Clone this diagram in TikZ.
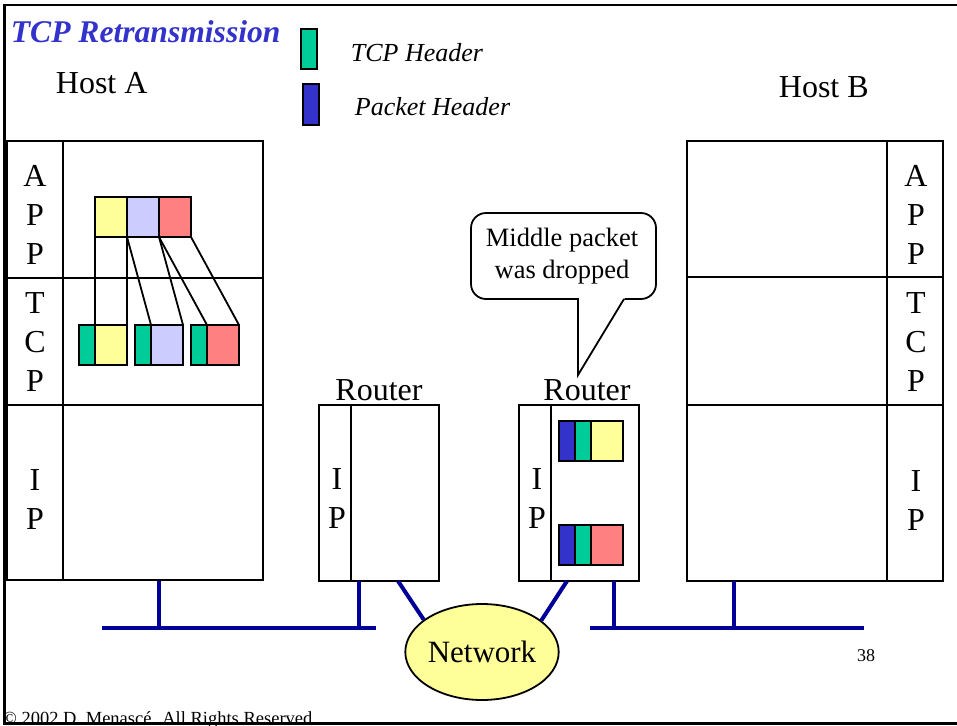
\documentclass[tikz,border=0pt]{standalone}
\usepackage{fontspec}
\setmainfont{Liberation Serif}
\usetikzlibrary{shapes.geometric}
\definecolor{tcpgreen}{HTML}{00CC99}
\definecolor{pktblue}{HTML}{3333CC}
\definecolor{dyellow}{HTML}{FFFF99}
\definecolor{dlav}{HTML}{CCCCFF}
\definecolor{dred}{HTML}{FF8080}
\definecolor{cable}{HTML}{000099}
\definecolor{titleblue}{HTML}{3333CC}
\begin{document}
\begin{tikzpicture}[x=1pt,y=-1pt,line width=1.8pt,
  box/.style={draw=black,line width=1.8pt,rectangle,inner sep=0pt,outer sep=0pt,anchor=north west},
  datapart/.style={box,minimum width=32pt,minimum height=40pt},
  tcphdr/.style={box,minimum width=16pt,minimum height=40pt,fill=tcpgreen},
  pkthdr/.style={box,minimum width=16pt,minimum height=40pt,fill=pktblue},
  cablel/.style={draw=cable,line width=4pt},
  big/.style={font=\fontsize{32}{39}\selectfont,inner sep=0pt},
  stack/.style={big,align=center},
  label/.style={inner sep=0pt,anchor=base west}]
\path[use as bounding box] (0,0) rectangle (957,725);
\clip (0,0) rectangle (957,725);

% title and legend
\node[label,font=\fontsize{31.6}{36}\selectfont\bfseries\itshape,text=titleblue] (title) at (10,42) {TCP Retransmission};
\node[tcphdr] (lgtcp) at (301,29) {};
\node[pkthdr,minimum height=41pt] (lgpkt) at (303,84) {};
\node[label,font=\fontsize{26}{30}\selectfont\itshape] (lgtcptxt) at (350,62) {TCP Header};
\node[label,font=\fontsize{26}{30}\selectfont\itshape] (lgpkttxt) at (354,115) {Packet Header};

% hosts
\node[label,big] (hostAlbl) at (55,93) {Host A};
\node[label,big] (hostBlbl) at (778,97) {Host B};

\node[box,minimum width=256pt,minimum height=439pt] (hostA) at (7,141) {};
\draw (63,141) -- (63,580);
\draw (7,278) -- (263,278);
\draw (7,405) -- (263,405);
\node[stack] (aapp) at (35,215) {A\\P\\P};
\node[stack] (atcp) at (35,342) {T\\C\\P};
\node[stack] (aip) at (35,500) {I\\P};

\node[box,minimum width=256pt,minimum height=440pt] (hostB) at (687,141) {};
\draw (887,141) -- (887,581);
\draw (687,277) -- (943,277);
\draw (687,405) -- (943,405);
\node[stack] (bapp) at (916,215) {A\\P\\P};
\node[stack] (btcp) at (916,342) {T\\C\\P};
\node[stack] (bip) at (916,501) {I\\P};

% application data
\node[datapart,fill=dyellow] (a1) at (95,197) {};
\node[datapart,fill=dlav] (a2) at (127,197) {};
\node[datapart,fill=dred] (a3) at (159,197) {};
% tcp segments
\node[tcphdr] (g1) at (79,325) {};
\node[datapart,fill=dyellow] (d1) at (95,325) {};
\node[tcphdr] (g2) at (135,325) {};
\node[datapart,fill=dlav] (d2) at (151,325) {};
\node[tcphdr] (g3) at (191,325) {};
\node[datapart,fill=dred] (d3) at (207,325) {};
\draw (a1.south west) -- (d1.north west);
\draw (a1.south east) -- (d1.north east);
\draw (a2.south west) -- (d2.north west);
\draw (a2.south east) -- (d2.north east);
\draw (a3.south west) -- (d3.north west);
\draw (a3.south east) -- (d3.north east);

% routers
\node[box,minimum width=120pt,minimum height=176pt] (r1) at (319,405) {};
\draw (351,405) -- (351,581);
\node[big,anchor=base] (r1lbl) at (379,400) {Router};
\node[stack] (r1ip) at (337,499) {I\\P};

\node[box,minimum width=120pt,minimum height=176pt] (r2) at (519,405) {};
\draw (551,405) -- (551,581);
\node[big,anchor=base] (r2lbl) at (587,400) {Router};
\node[stack] (r2ip) at (537,499) {I\\P};

\node[pkthdr] (q1b) at (559,421) {};
\node[tcphdr] (q1g) at (575,421) {};
\node[datapart,fill=dyellow] (q1d) at (591,421) {};
\node[pkthdr] (q3b) at (559,525) {};
\node[tcphdr] (q3g) at (575,525) {};
\node[datapart,fill=dred] (q3d) at (591,525) {};

% callout
\draw[fill=white,rounded corners=15pt] (471,213) rectangle (656,299);
\fill[white] (579.2,297) -- (579.2,301) -- (623,301) -- (625.5,297) -- cycle;
\coordinate (tip) at (578,375);
\draw[line join=miter] (578,299) -- (tip) -- (624,299);
\node[font=\fontsize{26.5}{32}\selectfont,align=center,inner sep=0pt] (callout) at (562,256) {Middle packet\\was dropped};

% network
\coordinate (hAst) at (159,581);
\coordinate (r1st) at (359,581);
\coordinate (r1dg) at (398,581);
\coordinate (r2dg) at (567,581);
\coordinate (r2st) at (614,581);
\coordinate (hBst) at (734,581);
\coordinate (busL1) at (102,628);
\coordinate (busL2) at (376,628);
\coordinate (busR1) at (590,628);
\coordinate (busR2) at (864,628);
\draw[cablel] (busL1) -- (busL2);
\draw[cablel] (busR1) -- (busR2);
\draw[cablel] (hAst) -- (hAst |- busL1);
\draw[cablel] (r1st) -- (r1st |- busL1);
\draw[cablel] (r2st) -- (r2st |- busR1);
\draw[cablel] (hBst) -- (hBst |- busR1);
\node[ellipse,draw=black,line width=1.8pt,fill=dyellow,minimum width=152pt,minimum height=96pt,inner sep=0pt,font=\fontsize{31}{36}\selectfont] (net) at (482,652) {Network};
\draw[cablel] (r1dg) -- (net.151);
\draw[cablel] (r2dg) -- (net.28);

% page number and footer
\node[inner sep=0pt,font=\fontsize{18}{21}\selectfont] (page) at (866,656) {38};
\node[label,font=\fontsize{18.5}{21}\selectfont] (footer) at (2,724.5) {© 2002 D. Menascé. All Rights Reserved};

% frame
\draw[line width=2.5pt] (960,5) -- (4.5,5) -- (4.5,723.5) -- (960,723.5);
\end{tikzpicture}
\end{document}
